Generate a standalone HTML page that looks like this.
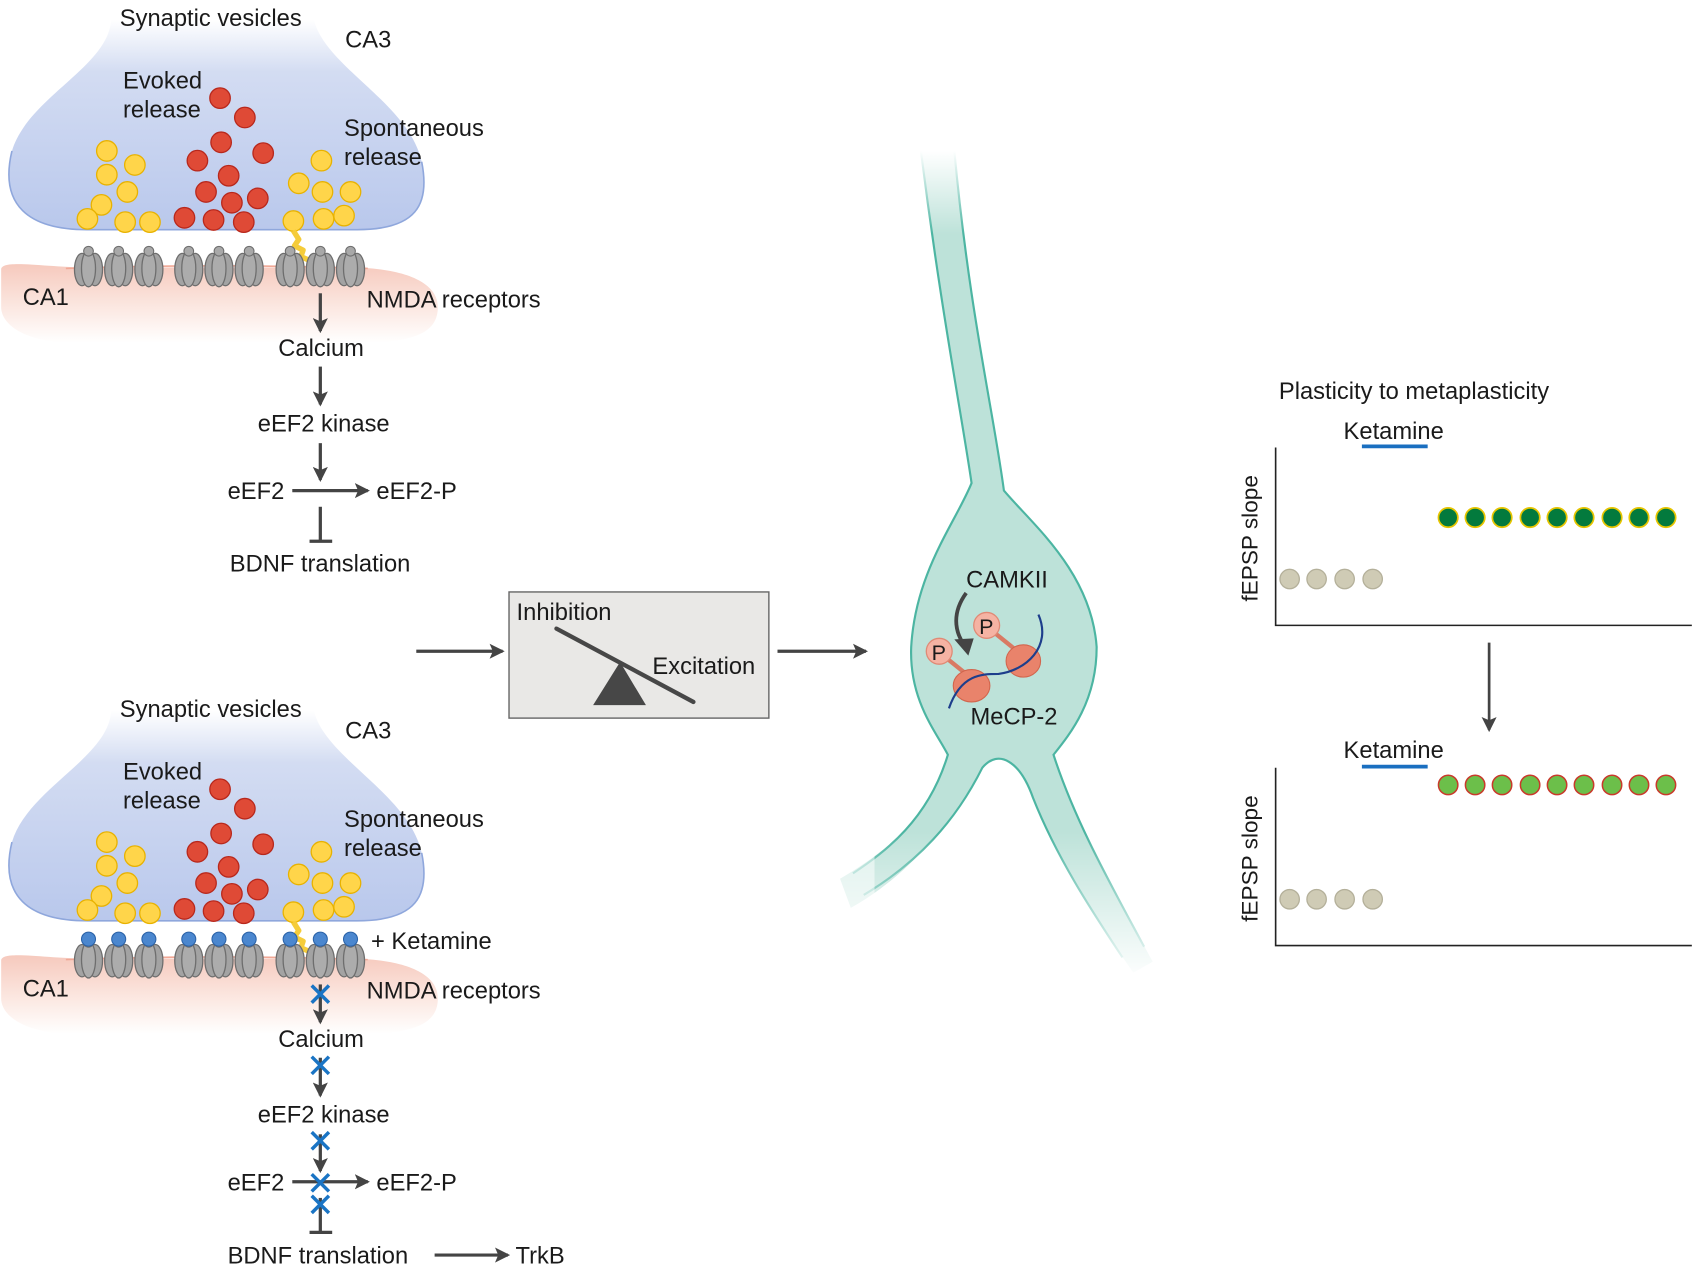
<!DOCTYPE html>
<html><head><meta charset="utf-8"><style>
html,body{margin:0;padding:0;background:#fff;}
svg{display:block;}
text{font-family:"Liberation Sans",sans-serif;font-size:22px;fill:#1a1a1a;}
</style></head><body>
<svg width="1693" height="1268" viewBox="0 0 1568 1176" xmlns="http://www.w3.org/2000/svg">
<defs>
<linearGradient id="term" x1="0" y1="0" x2="0" y2="1">
<stop offset="0" stop-color="#ffffff"/><stop offset="0.25" stop-color="#d3dcf2"/><stop offset="1" stop-color="#b9c8ec"/>
</linearGradient>
<linearGradient id="post" x1="0" y1="0" x2="0" y2="1">
<stop offset="0" stop-color="#f6c9bd"/><stop offset="0.5" stop-color="#fbe5de"/><stop offset="1" stop-color="#ffffff"/>
</linearGradient>
<linearGradient id="neu" x1="0" y1="0" x2="0" y2="1">
<stop offset="0" stop-color="#ffffff"/><stop offset="0.12" stop-color="#d5ede7"/><stop offset="0.5" stop-color="#b9e0d7"/><stop offset="0.85" stop-color="#c5e6de"/><stop offset="1" stop-color="#ffffff"/>
</linearGradient>
<linearGradient id="fade" gradientUnits="userSpaceOnUse" x1="0" y1="140" x2="0" y2="910">
<stop offset="0" stop-color="#000"/><stop offset="0.1" stop-color="#fff"/><stop offset="0.82" stop-color="#fff"/><stop offset="1" stop-color="#000"/>
</linearGradient>
<mask id="nm" maskUnits="userSpaceOnUse" x="700" y="100" width="450" height="850">
<rect x="700" y="100" width="450" height="850" fill="url(#fade)"/>
</mask>
<marker id="ah" markerWidth="14" markerHeight="14" refX="12" refY="7" orient="auto" markerUnits="userSpaceOnUse">
<path d="M0,0 L14,7 L0,14 L3,7 Z" fill="#444"/>
</marker>
<g id="rec">
<ellipse cx="-6" cy="2" rx="7" ry="15" fill="#a3a3a3" stroke="#6e6e6e" stroke-width="1.2"/>
<ellipse cx="6" cy="2" rx="7" ry="15" fill="#a3a3a3" stroke="#6e6e6e" stroke-width="1.2"/>
<ellipse cx="0" cy="1" rx="6.5" ry="17" fill="#acacac" stroke="#6e6e6e" stroke-width="1.2"/>
<circle cx="0" cy="-15" r="4.5" fill="#a8a8a8" stroke="#6e6e6e" stroke-width="1"/>
</g>
<g id="yv"><circle r="9.5" fill="#ffd54a" stroke="#e8b200" stroke-width="1.2"/></g>
<g id="rv"><circle r="9.5" fill="#df4a36" stroke="#b8281c" stroke-width="1.2"/></g>
<g id="syn">
<path d="M0 250 C 0 240, 40 248, 80 248 L 320 248 C 370 248, 405 260, 405 285 C 405 310, 380 318, 330 318 L 70 318 C 20 318, 0 300, 0 285 Z" fill="url(#post)"/>
<path d="M60 249 Q 200 244 340 249" stroke="#f0a896" stroke-width="1.5" fill="none"/>
<path d="M102 18 C 100 62, 25 90, 10 140 C -2 190, 25 213, 80 213 L 330 213 C 385 213, 398 190, 390 150 C 378 95, 300 62, 290 18 Z" fill="url(#term)"/>
<path d="M10 140 C -2 190, 25 213, 80 213 L 330 213 C 385 213, 398 190, 390 150" stroke="#8fa7dc" stroke-width="1.5" fill="none"/>
<use href="#yv" x="98" y="140"/><use href="#yv" x="124" y="153"/><use href="#yv" x="98" y="162"/><use href="#yv" x="117" y="178"/><use href="#yv" x="93" y="190"/><use href="#yv" x="80" y="203"/><use href="#yv" x="115" y="206"/><use href="#yv" x="138" y="206"/>
<use href="#yv" x="297" y="149"/><use href="#yv" x="276" y="170"/><use href="#yv" x="298" y="178"/><use href="#yv" x="324" y="178"/><use href="#yv" x="318" y="200"/><use href="#yv" x="299" y="203"/><use href="#yv" x="271" y="205"/>
<use href="#rv" x="203" y="91"/><use href="#rv" x="226" y="109"/><use href="#rv" x="204" y="132"/><use href="#rv" x="243" y="142"/><use href="#rv" x="182" y="149"/><use href="#rv" x="211" y="163"/><use href="#rv" x="190" y="178"/><use href="#rv" x="238" y="184"/><use href="#rv" x="214" y="188"/><use href="#rv" x="170" y="202"/><use href="#rv" x="197" y="204"/><use href="#rv" x="225" y="206"/>
<path d="M271 214 L276 222 L272 228 L280 232 L278 238 L287 242" stroke="#f5cc3a" stroke-width="5" fill="none" stroke-linejoin="round"/>
<use href="#rec" x="81" y="248"/><use href="#rec" x="109" y="248"/><use href="#rec" x="137" y="248"/>
<use href="#rec" x="174" y="248"/><use href="#rec" x="202" y="248"/><use href="#rec" x="230" y="248"/>
<use href="#rec" x="268" y="248"/><use href="#rec" x="296" y="248"/><use href="#rec" x="324" y="248"/>
</g>
<g id="bx"><path d="M-8,-8 L8,8 M8,-8 L-8,8" stroke="#1a74c4" stroke-width="3.2"/></g>
</defs>

<!-- top synapse -->
<use href="#syn"/>
<text x="110" y="24">Synaptic vesicles</text>
<text x="319" y="44">CA3</text>
<text x="113" y="82">Evoked</text>
<text x="113" y="109">release</text>
<text x="318" y="126">Spontaneous</text>
<text x="318" y="153">release</text>
<text x="20" y="283">CA1</text>
<text x="339" y="285">NMDA receptors</text>
<g stroke="#444" stroke-width="3" fill="none">
<line x1="296" y1="272" x2="296" y2="307" marker-end="url(#ah)"/>
<line x1="296" y1="340" x2="296" y2="375" marker-end="url(#ah)"/>
<line x1="296" y1="411" x2="296" y2="445" marker-end="url(#ah)"/>
<line x1="270" y1="455" x2="340" y2="455" marker-end="url(#ah)"/>
<line x1="296" y1="470" x2="296" y2="502"/>
<line x1="286" y1="502" x2="307" y2="502"/>
</g>
<text x="257" y="330">Calcium</text>
<text x="238" y="400">eEF2 kinase</text>
<text x="210" y="463">eEF2</text>
<text x="348" y="463">eEF2-P</text>
<text x="212" y="530">BDNF translation</text>

<!-- bottom synapse -->
<g transform="translate(0,641)"><use href="#syn"/>
<g fill="#4b87cf" stroke="#2c63a8" stroke-width="1">
<circle cx="81" cy="230" r="6.5"/><circle cx="109" cy="230" r="6.5"/><circle cx="137" cy="230" r="6.5"/>
<circle cx="174" cy="230" r="6.5"/><circle cx="202" cy="230" r="6.5"/><circle cx="230" cy="230" r="6.5"/>
<circle cx="268" cy="230" r="6.5"/><circle cx="296" cy="230" r="6.5"/><circle cx="324" cy="230" r="6.5"/>
</g></g>
<text x="110" y="665">Synaptic vesicles</text>
<text x="319" y="685">CA3</text>
<text x="113" y="723">Evoked</text>
<text x="113" y="750">release</text>
<text x="318" y="767">Spontaneous</text>
<text x="318" y="794">release</text>
<text x="343" y="880">+ Ketamine</text>
<text x="20" y="924">CA1</text>
<text x="339" y="926">NMDA receptors</text>
<g stroke="#444" stroke-width="3" fill="none">
<line x1="296" y1="913" x2="296" y2="948" marker-end="url(#ah)"/>
<line x1="296" y1="981" x2="296" y2="1016" marker-end="url(#ah)"/>
<line x1="296" y1="1052" x2="296" y2="1086" marker-end="url(#ah)"/>
<line x1="270" y1="1096" x2="340" y2="1096" marker-end="url(#ah)"/>
<line x1="296" y1="1111" x2="296" y2="1143"/>
<line x1="286" y1="1143" x2="307" y2="1143"/>
<line x1="402" y1="1164" x2="470" y2="1164" marker-end="url(#ah)"/>
</g>
<use href="#bx" x="296" y="922"/><use href="#bx" x="296" y="988"/><use href="#bx" x="296" y="1058"/><use href="#bx" x="296" y="1097"/><use href="#bx" x="296" y="1117"/>
<text x="257" y="971">Calcium</text>
<text x="238" y="1041">eEF2 kinase</text>
<text x="210" y="1104">eEF2</text>
<text x="348" y="1104">eEF2-P</text>
<text x="210" y="1172">BDNF translation</text>
<text x="477" y="1172">TrkB</text>

<!-- middle box -->
<g stroke="#444" stroke-width="3" fill="none">
<line x1="385" y1="604" x2="465" y2="604" marker-end="url(#ah)"/>
<line x1="720" y1="604" x2="802" y2="604" marker-end="url(#ah)"/>
</g>
<rect x="471" y="549" width="241" height="117" fill="#e9e8e6" stroke="#666" stroke-width="1.3"/>
<polygon points="549,654 598,654 574,614" fill="#474747"/>
<line x1="515" y1="583" x2="642" y2="651" stroke="#474747" stroke-width="4" stroke-linecap="round"/>
<text x="478" y="575">Inhibition</text>
<text x="604" y="625">Excitation</text>

<!-- neuron -->
<g mask="url(#nm)">
<path d="M853 140 C 870 280, 890 380, 900 448 C 885 485, 848 530, 844 600 C 842 650, 868 680, 878 700 C 860 760, 820 790, 778 815 L 788 842 C 842 812, 882 762, 910 712 C 925 694, 945 706, 957 740 C 982 800, 1022 862, 1050 902 L 1068 892 C 1030 822, 996 762, 976 700 C 992 680, 1016 650, 1016 600 C 1011 530, 955 485, 930 455 C 920 380, 895 280, 884 140 Z" fill="#bde2d9"/>
<path d="M853 140 C 872 290, 890 380, 900 448 C 885 485, 848 530, 844 600 C 842 650, 868 680, 878 700 C 860 760, 820 790, 790 810" stroke="#4cb5a2" stroke-width="2" fill="none"/>
<path d="M884 140 C 898 290, 920 380, 930 455 C 955 485, 1011 530, 1016 600 C 1016 650, 992 680, 976 700 C 996 762, 1030 822, 1060 878" stroke="#4cb5a2" stroke-width="2" fill="none"/>
<path d="M800 830 C 850 800, 885 762, 910 712 C 925 694, 945 706, 957 740 C 980 798, 1015 850, 1040 888" stroke="#4cb5a2" stroke-width="2" fill="none"/>
</g>
<rect x="770" y="790" width="40" height="60" fill="#fff" opacity="0.5"/>
<text x="895" y="545">CAMKII</text>
<path d="M895 550 C 882 568, 884 585, 893 598" stroke="#444" stroke-width="3.5" fill="none"/>
<polygon points="884,593 902,592 897,608" fill="#444"/>
<g stroke="#d97a64" stroke-width="4"><line x1="870" y1="605" x2="895" y2="625"/><line x1="914" y1="581" x2="940" y2="602"/></g>
<ellipse cx="900" cy="636" rx="17" ry="15" fill="#e9836b" stroke="#d2654d" stroke-width="1"/>
<ellipse cx="948" cy="613" rx="16" ry="15" fill="#e9836b" stroke="#d2654d" stroke-width="1"/>
<circle cx="870" cy="604" r="12" fill="#f5b3a3" stroke="#e08a76" stroke-width="1.2"/>
<circle cx="914" cy="580" r="12" fill="#f5b3a3" stroke="#e08a76" stroke-width="1.2"/>
<text x="863" y="612" style="font-size:20px">P</text>
<text x="907" y="588" style="font-size:20px">P</text>
<path d="M879 657 C 890 625, 910 625, 925 625 C 950 622, 975 600, 962 570" stroke="#1d3e8c" stroke-width="2" fill="none"/>
<text x="899" y="672">MeCP-2</text>

<!-- plots -->
<text x="1185" y="370">Plasticity to metaplasticity</text>
<text x="1245" y="407">Ketamine</text>
<line x1="1262" y1="414" x2="1323" y2="414" stroke="#1a6fc0" stroke-width="3.5"/>
<path d="M1182 415 L1182 580 L1568 580" stroke="#222" stroke-width="1.5" fill="none"/>
<text transform="translate(1165,558) rotate(-90)" style="font-size:21px">fEPSP slope</text>
<g fill="#cfcbb5" stroke="#b4b09a" stroke-width="1.2">
<circle cx="1195" cy="537" r="9"/><circle cx="1220" cy="537" r="9"/><circle cx="1246" cy="537" r="9"/><circle cx="1272" cy="537" r="9"/>
<circle cx="1195" cy="834" r="9"/><circle cx="1220" cy="834" r="9"/><circle cx="1246" cy="834" r="9"/><circle cx="1272" cy="834" r="9"/>
</g>
<g fill="#037a3d" stroke="#e7c500" stroke-width="1.6">
<circle cx="1342" cy="480" r="9"/><circle cx="1367" cy="480" r="9"/><circle cx="1392" cy="480" r="9"/><circle cx="1418" cy="480" r="9"/><circle cx="1443" cy="480" r="9"/><circle cx="1468" cy="480" r="9"/><circle cx="1494" cy="480" r="9"/><circle cx="1519" cy="480" r="9"/><circle cx="1544" cy="480" r="9"/>
</g>
<line x1="1380" y1="596" x2="1380" y2="677" stroke="#444" stroke-width="2.5" marker-end="url(#ah)"/>
<text x="1245" y="703">Ketamine</text>
<line x1="1262" y1="711" x2="1323" y2="711" stroke="#1a6fc0" stroke-width="3.5"/>
<path d="M1182 712 L1182 877 L1568 877" stroke="#222" stroke-width="1.5" fill="none"/>
<text transform="translate(1165,855) rotate(-90)" style="font-size:21px">fEPSP slope</text>
<g fill="#6cbf4a" stroke="#c9392b" stroke-width="1.4">
<circle cx="1342" cy="728" r="9"/><circle cx="1367" cy="728" r="9"/><circle cx="1392" cy="728" r="9"/><circle cx="1418" cy="728" r="9"/><circle cx="1443" cy="728" r="9"/><circle cx="1468" cy="728" r="9"/><circle cx="1494" cy="728" r="9"/><circle cx="1519" cy="728" r="9"/><circle cx="1544" cy="728" r="9"/>
</g>
</svg>
</body></html>
